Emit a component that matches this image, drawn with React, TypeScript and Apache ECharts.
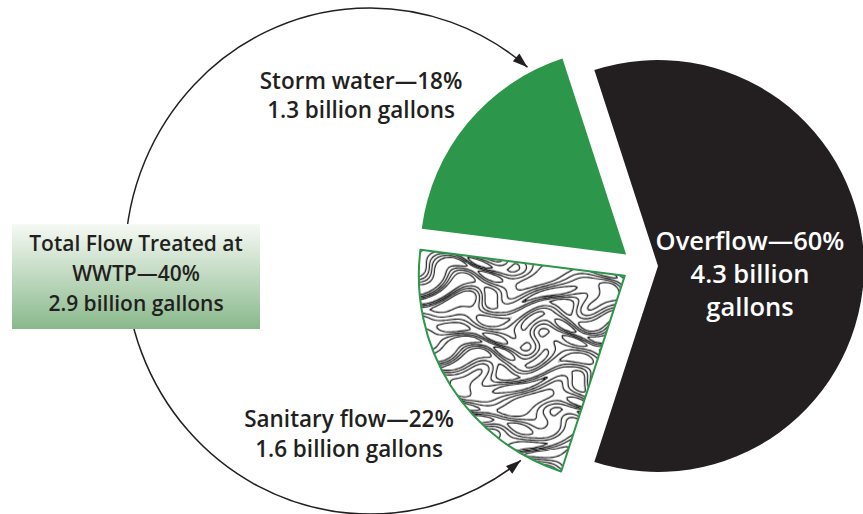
import React, { useEffect, useRef } from 'react';
import * as echarts from 'echarts';

// ---- Data ----
const categories = ['Overflow', 'Sanitary flow', 'Storm water'];
const percents = [60, 22, 18];
const billions = [4.3, 1.6, 1.3];
const treatedLabel = 'Total Flow Treated at';
const treatedName = 'WWTP';
const treatedPercent = 40;
const treatedBillions = 2.9;

// ---- Styles / layout ----
const DARK = '#231f20';
const GREEN = '#2c964a';
const FONT = '"Open Sans", Lato, sans-serif';
const labelPos = [
  { x: 750, y: 273, size: 25.5, lh: 33, color: '#ffffff' },
  { x: 349, y: 433, size: 22.5, lh: 30, color: DARK },
  { x: 361, y: 95, size: 22.5, lh: 29, color: DARK },
];

function makeContourPattern(): HTMLCanvasElement {
  const S = 220;
  const cv = document.createElement('canvas');
  cv.width = S;
  cv.height = S;
  const ctx = cv.getContext('2d') as CanvasRenderingContext2D;
  ctx.fillStyle = '#ffffff';
  ctx.fillRect(0, 0, S, S);
  const TAU = Math.PI * 2;
  const f = (x: number, y: number) => {
    const u = (TAU * x) / S;
    const v = (TAU * y) / S;
    return (
      Math.sin(6 * v + 1.8 * Math.sin(2 * u + 1.2 * Math.sin(3 * v)) + 0.9 * Math.sin(3 * u - v)) +
      0.35 * Math.sin(4 * u + 5 * v)
    );
  };
  const g = 2;
  const n = S / g;
  const vals: number[][] = [];
  for (let j = 0; j <= n; j++) {
    const row: number[] = [];
    for (let i = 0; i <= n; i++) row.push(f(i * g, j * g));
    vals.push(row);
  }
  ctx.strokeStyle = '#000000';
  ctx.lineWidth = 1.1;
  ctx.lineCap = 'round';
  ctx.beginPath();
  const levels = [-0.8, -0.27, 0.27, 0.8];
  for (const L of levels) {
    for (let j = 0; j < n; j++) {
      for (let i = 0; i < n; i++) {
        const a = vals[j][i] - L;
        const b = vals[j][i + 1] - L;
        const c = vals[j + 1][i + 1] - L;
        const d = vals[j + 1][i] - L;
        const x0 = i * g;
        const y0 = j * g;
        const pts: number[][] = [];
        if (a > 0 !== b > 0) pts.push([x0 + (g * a) / (a - b), y0]);
        if (b > 0 !== c > 0) pts.push([x0 + g, y0 + (g * b) / (b - c)]);
        if (d > 0 !== c > 0) pts.push([x0 + (g * d) / (d - c), y0 + g]);
        if (a > 0 !== d > 0) pts.push([x0, y0 + (g * a) / (a - d)]);
        for (let k = 0; k + 1 < pts.length; k += 2) {
          ctx.moveTo(pts[k][0], pts[k][1]);
          ctx.lineTo(pts[k + 1][0], pts[k + 1][1]);
        }
      }
    }
  }
  ctx.stroke();
  return cv;
}

function arrowHead(tx: number, ty: number, dx: number, dy: number, len: number, wid: number) {
  const m = Math.hypot(dx, dy);
  const ux = dx / m;
  const uy = dy / m;
  const nx = -uy;
  const ny = ux;
  const bx = tx - ux * len;
  const by = ty - uy * len;
  return [
    [tx, ty],
    [bx + (nx * wid) / 2, by + (ny * wid) / 2],
    [bx - (nx * wid) / 2, by - (ny * wid) / 2],
  ];
}

export default function App() {
  const ref = useRef<HTMLDivElement>(null);

  useEffect(() => {
    if (!ref.current) return;
    const chart = echarts.init(ref.current, null, { renderer: 'svg' });
    const pattern = makeContourPattern();

    // decorative ellipse (flow loop)
    const ecx = 370;
    const ecy = 261;
    const rx = 245;
    const ry = 253;
    const a0 = (52 * Math.PI) / 180; // bottom end
    const a1 = (310 * Math.PI) / 180; // top end
    const topTip = [ecx + rx * Math.cos(a1), ecy + ry * Math.sin(a1)];
    const botTip = [ecx + rx * Math.cos(a0), ecy + ry * Math.sin(a0)];
    const topDir = [-rx * Math.sin(a1), ry * Math.cos(a1)];
    const botDir = [rx * Math.sin(a0), -ry * Math.cos(a0)];

    const itemStyles = [
      { color: DARK, borderWidth: 0 },
      { color: { image: pattern, repeat: 'repeat' }, borderColor: GREEN, borderWidth: 2 },
      { color: GREEN, borderWidth: 0 },
    ];

    const data = categories.map((name, i) => ({
      name,
      value: percents[i],
      selected: true,
      itemStyle: itemStyles[i],
    }));

    const sliceLabels = categories.map((name, i) => {
      const head = `${name}—${percents[i]}%`;
      const text =
        i === 0 ? `${head}\n${billions[i]} billion\ngallons` : `${head}\n${billions[i]} billion gallons`;
      const p = labelPos[i];
      return {
        type: 'text',
        z: 10,
        x: p.x,
        y: p.y,
        style: {
          text,
          fill: p.color,
          font: `600 ${p.size}px ${FONT}`,
          lineHeight: p.lh,
          align: 'center',
          verticalAlign: 'middle',
        },
      };
    });

    chart.setOption({
      animation: false,
      backgroundColor: '#ffffff',
      series: [
        {
          type: 'pie',
          center: [640, 266],
          radius: 206,
          startAngle: 108,
          clockwise: true,
          selectedMode: 'multiple',
          selectedOffset: 18,
          avoidLabelOverlap: false,
          silent: true,
          emphasis: { disabled: true },
          label: { show: false },
          labelLine: { show: false },
          data,
        },
      ],
      graphic: [
        {
          type: 'group',
          x: ecx,
          y: ecy,
          scaleY: ry / rx,
          z: 1,
          children: [
            {
              type: 'arc',
              shape: { cx: 0, cy: 0, r: rx, startAngle: a0, endAngle: a1, clockwise: true },
              style: { stroke: DARK, lineWidth: 1.5, fill: null },
            },
          ],
        },
        {
          type: 'polygon',
          z: 1,
          shape: { points: arrowHead(topTip[0], topTip[1], topDir[0], topDir[1], 15, 10) },
          style: { fill: DARK },
        },
        {
          type: 'polygon',
          z: 1,
          shape: { points: arrowHead(botTip[0], botTip[1], botDir[0], botDir[1], 15, 10) },
          style: { fill: DARK },
        },
        {
          type: 'rect',
          z: 5,
          shape: { x: 12, y: 224, width: 248, height: 105 },
          style: {
            fill: {
              type: 'linear',
              x: 0,
              y: 0,
              x2: 0,
              y2: 1,
              colorStops: [
                { offset: 0, color: '#f6f9f4' },
                { offset: 1, color: '#89b98b' },
              ],
            },
          },
        },
        {
          type: 'text',
          z: 6,
          x: 136,
          y: 273,
          style: {
            text: `${treatedLabel}\n${treatedName}—${treatedPercent}%\n${treatedBillions} billion gallons`,
            fill: DARK,
            font: `600 21px ${FONT}`,
            lineHeight: 30,
            align: 'center',
            verticalAlign: 'middle',
          },
        },
        ...sliceLabels,
      ],
    });
    return () => chart.dispose();
  }, []);

  return (
    <div
      ref={ref}
      style={{ position: 'absolute', left: 0, top: 0, width: 863, height: 514, background: '#fff' }}
    />
  );
}
